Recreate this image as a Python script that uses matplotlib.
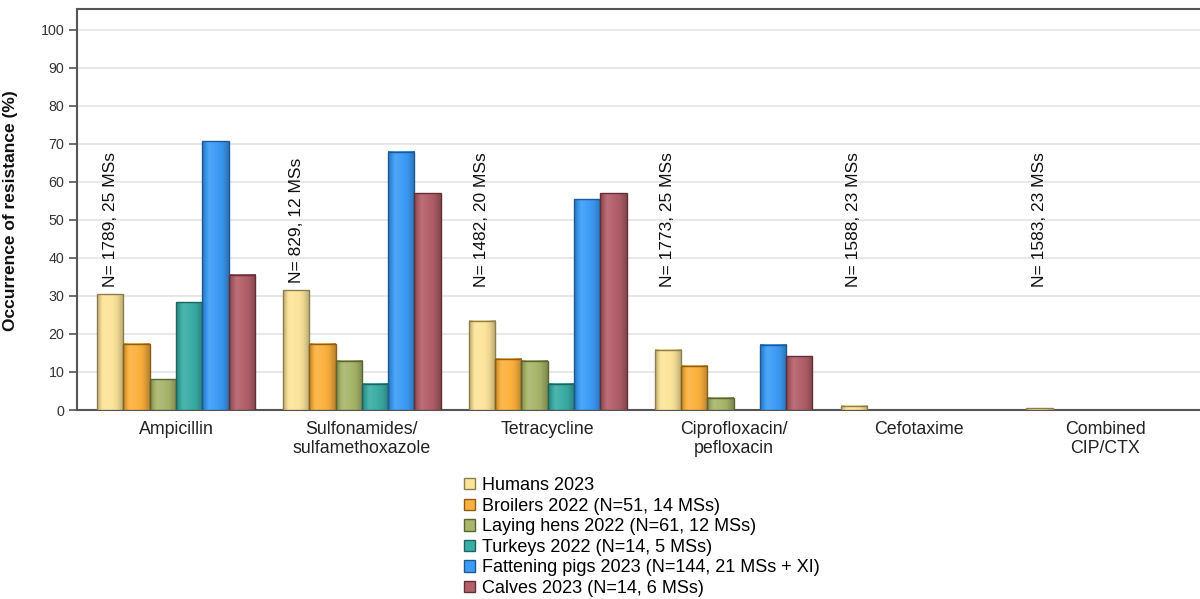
import numpy as np
import matplotlib
matplotlib.use('Agg')
import matplotlib.pyplot as plt
import matplotlib.patches as mpatches
from matplotlib.colors import to_rgb

plt.rcParams['font.family'] = ['Liberation Sans', 'DejaVu Sans']

categories = ['Ampicillin', 'Sulfonamides/\nsulfamethoxazole', 'Tetracycline',
              'Ciprofloxacin/\npefloxacin', 'Cefotaxime', 'Combined\nCIP/CTX']
n_labels = ['N= 1789, 25 MSs', 'N= 829, 12 MSs', 'N= 1482, 20 MSs',
            'N= 1773, 25 MSs', 'N= 1588, 23 MSs', 'N= 1583, 23 MSs']

series_names = ['Humans 2023', 'Broilers 2022 (N=51, 14 MSs)',
                'Laying hens 2022 (N=61, 12 MSs)', 'Turkeys 2022 (N=14, 5 MSs)',
                'Fattening pigs 2023 (N=144, 21 MSs + XI)', 'Calves 2023 (N=14, 6 MSs)']

humans = [30.4, 31.5, 23.5, 15.8, 1.1, 0.45]
broilers = [17.4, 17.4, 13.5, 11.6, np.nan, np.nan]
laying_hens = [8.1, 13.0, 13.0, 3.2, np.nan, np.nan]
turkeys = [28.4, 6.9, 6.9, np.nan, np.nan, np.nan]
pigs = [70.7, 67.9, 55.5, 17.2, np.nan, np.nan]
calves = [35.6, 57.0, 57.0, 14.2, np.nan, np.nan]

colors = ['#FBE49A', '#FBB13E', '#A8B66C', '#3AADA5', '#3D9CF5', '#B2606A']
edges = ['#8C7E4E', '#8E5E14', '#5B6534', '#1D6560', '#1C5A95', '#662E35']

fig = plt.figure(figsize=(12, 5.99), dpi=100)
ax = fig.add_axes([77 / 1200, 1 - 410 / 599, 1 - 77 / 1200, (410 - 9) / 599])

x = np.arange(len(categories))
w = 0.1415
all_series = [humans, broilers, laying_hens, turkeys, pigs, calves]


def shade(rgb, f):
    rgb = np.array(rgb)
    if f >= 1:
        return rgb + (1 - rgb) * (f - 1)
    return rgb * f


# cylinder-ish shading across each bar
profile = np.concatenate([np.linspace(0.75, 1.10, 14), np.linspace(1.10, 0.96, 22),
                          np.linspace(0.96, 0.74, 14)])

for i, (vals, c, ec) in enumerate(zip(all_series, colors, edges)):
    bars = ax.bar(x + (i - 2.5) * w, vals, w, color=c, edgecolor=ec,
                  linewidth=1, zorder=3)
    base = to_rgb(c)
    grad = np.array([[np.clip(shade(base, f), 0, 1) for f in profile]])
    for r in bars:
        h = r.get_height()
        if not np.isfinite(h) or h <= 0:
            continue
        ax.imshow(grad, extent=[r.get_x(), r.get_x() + r.get_width(), 0, h],
                  aspect='auto', zorder=3.2, interpolation='bilinear')
        r.set_facecolor('none')
        r.set_zorder(4)

for xi, txt in zip(x, n_labels):
    ax.text(xi - 2.5 * w, 50, txt, rotation=90, ha='center', va='center',
            fontsize=12.5, color='#111111', zorder=5)

ax.set_xlim(-0.533, 5.51)
ax.set_ylim(0, 105.5)
ax.set_yticks(range(0, 101, 10))
ax.set_xticks(x)
ax.set_xticklabels(categories, fontsize=12.8, color='#222222', linespacing=1.15)
ax.tick_params(axis='x', length=0, pad=8)
ax.tick_params(axis='y', length=6, width=1.2, color='#555555', labelsize=10.3,
               labelcolor='#333333', pad=3)
ax.yaxis.grid(True, color='#E8E8E8', linewidth=1.5, zorder=0)
ax.set_axisbelow(True)
for s in ['left', 'bottom', 'top']:
    ax.spines[s].set_color('#555555')
    ax.spines[s].set_linewidth(1.5)
ax.spines['right'].set_visible(False)

ax.set_ylabel('Occurrence of resistance (%)', fontsize=12.5, fontweight='bold',
              color='#111111')
ax.yaxis.set_label_coords(-(77 - 18) / 1123, (410 - 211) / 401)

handles = [mpatches.Patch(facecolor=c, edgecolor=ec, linewidth=1, label=n)
           for c, ec, n in zip(colors, edges, series_names)]
fig.legend(handles=handles, loc='upper left',
           bbox_to_anchor=(464 / 1200, 1 - 477 / 599), frameon=False,
           fontsize=13, handlelength=0.6, handleheight=0.6, handletextpad=0.4,
           labelspacing=0.2, borderpad=0, borderaxespad=0)

fig.savefig('out.png', dpi=100)
